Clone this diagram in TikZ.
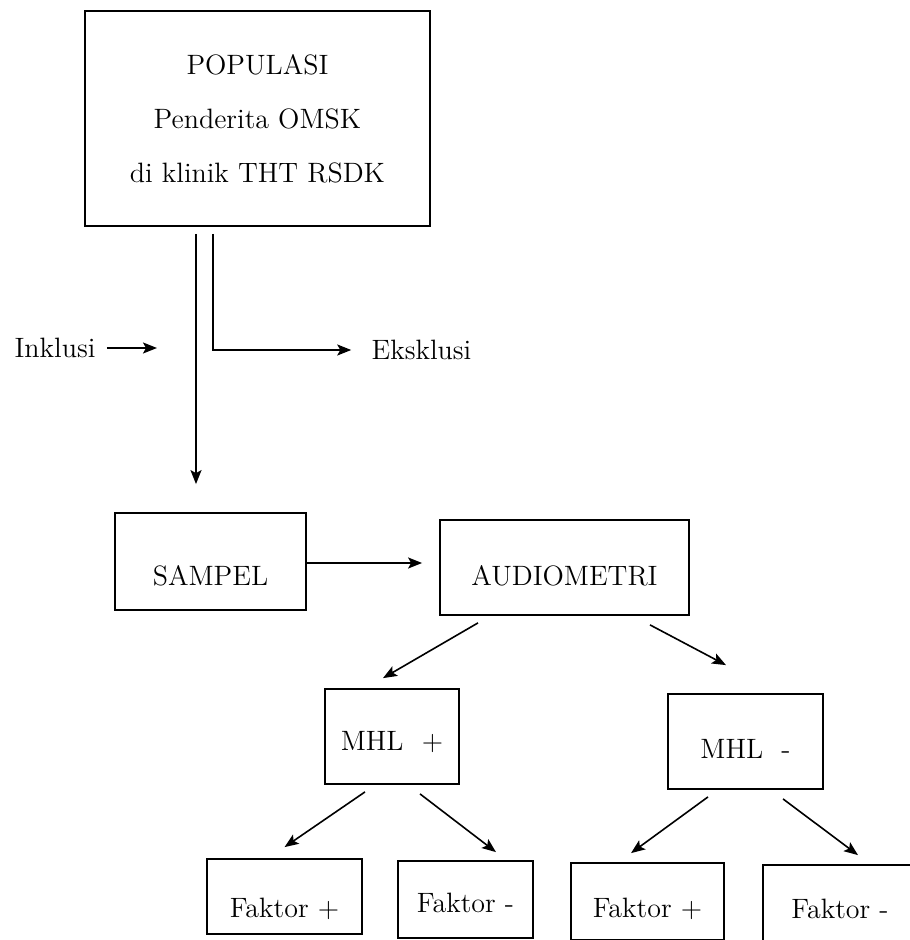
\documentclass[tikz,border=0pt]{standalone}
\usetikzlibrary{arrows.meta}
\tikzset{box/.style={rectangle,draw,line width=0.9pt,align=center,inner sep=0pt,font=\fontsize{14}{27}\selectfont},lbl/.style={inner sep=0pt,font=\fontsize{14}{17}\selectfont},drop/.style={text height=#1,text depth=0pt},line/.style={-{Stealth[length=7pt,width=5.5pt,inset=1.5pt]},line width=0.8pt}}

\begin{document}
\begin{tikzpicture}[x=0.5pt,y=-0.5pt]
\useasboundingbox (0,0) rectangle (909,940);
\node[box, minimum width=172.5pt, minimum height=107.5pt] (pop) at (257.5,118.5) {POPULASI\\Penderita OMSK\\di klinik THT RSDK};
\node[lbl] (inkl) at (55,348) {Inklusi};
\coordinate (inklend) at (157,348);
\node[lbl] (eks) at (421.5,350) {Eksklusi};
\node[box, drop=24pt, minimum width=95.5pt, minimum height=48.5pt] (sampel) at (210.5,561.5) {SAMPEL};
\node[box, drop=18pt, minimum width=124.5pt, minimum height=47.5pt] (audio) at (564.5,567.5) {AUDIOMETRI};
\node[box, drop=14pt, minimum width=67pt, minimum height=47.5pt] (mhlp) at (392,736.5) {MHL~~+};
\node[box, drop=17pt, minimum width=77.5pt, minimum height=47.5pt] (mhlm) at (745.5,741.5) {MHL~~-};
\node[box, drop=21pt, minimum width=77.5pt, minimum height=37.5pt] (fpp) at (284.5,896.5) {Faktor +};
\node[box, drop=13pt, minimum width=67.5pt, minimum height=38.5pt] (fpm) at (465.5,899.5) {Faktor -};
\node[box, drop=16pt, minimum width=76.5pt, minimum height=38.5pt] (fmp) at (647.5,901.5) {Faktor +};
\node[box, drop=15pt, minimum width=77pt, minimum height=38.5pt] (fmm) at (840,903.5) {Faktor -};
% inklusi / eksklusi
\draw[line, shorten <=5.5pt] (inkl.east) -- (inklend);
\draw[line] ([xshift=-30.75pt,yshift=-3.5pt]pop.south) coordinate (inc) -- ([yshift=14pt]inc |- sampel.north);
\draw[line, shorten >=10pt] ([xshift=-22.25pt,yshift=-3.5pt]pop.south) |- (eks.west);
\draw[line, shorten >=8.5pt] ([yshift=-0.75pt]sampel.east) -- ([yshift=-0.75pt]sampel.east -| audio.west);
% audiometri
\draw[line] ([xshift=-43.25pt,yshift=-3.5pt]audio.south) -- ([xshift=-4.5pt,yshift=5pt]mhlp.north);
\draw[line] ([xshift=42.75pt,yshift=-4.5pt]audio.south) -- ([xshift=-9.75pt,yshift=14pt]mhlm.north);
% faktor
\draw[line] ([xshift=-13.5pt,yshift=-3.5pt]mhlp.south) -- ([yshift=5.5pt]fpp.north);
\draw[line] ([xshift=14pt,yshift=-4.5pt]mhlp.south) -- ([xshift=15.25pt,yshift=4pt]fpm.north);
\draw[line] ([xshift=-18.75pt,yshift=-3.5pt]mhlm.south) -- ([xshift=-8.25pt,yshift=4.5pt]fmp.north);
\draw[line] ([xshift=18.75pt,yshift=-4.5pt]mhlm.south) -- ([xshift=9pt,yshift=4.5pt]fmm.north);
\end{tikzpicture}
\end{document}
